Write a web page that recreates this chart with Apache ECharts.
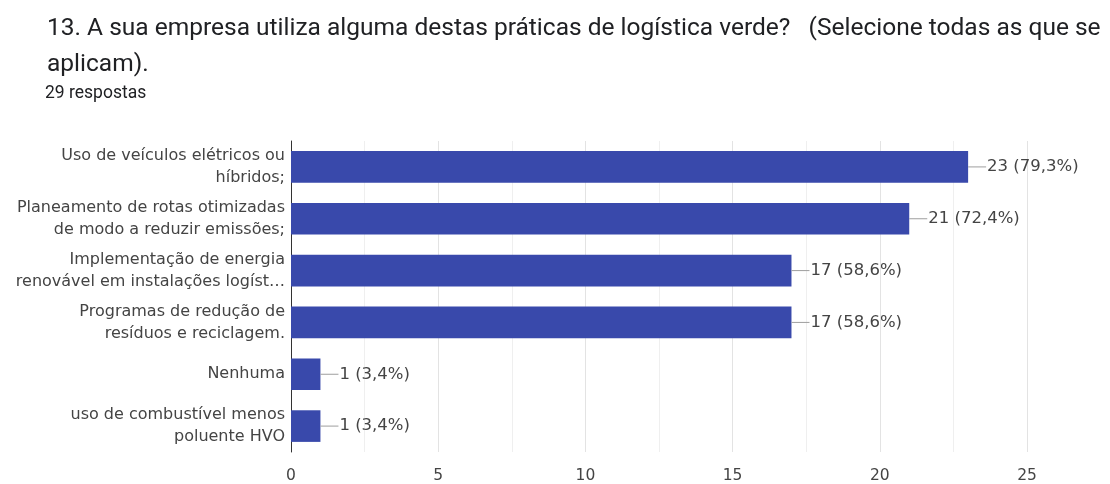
<!DOCTYPE html>
<html><head><meta charset="utf-8">
<script src="https://cdn.jsdelivr.net/npm/echarts@6/dist/echarts.min.js"></script>
<style>html,body{margin:0;padding:0;background:#fff}#c{width:1110px;height:484px}</style>
</head><body><div id="c"></div>
<script>
const categories = [
  "Uso de veículos elétricos ou\nhíbridos;",
  "Planeamento de rotas otimizadas\nde modo a reduzir emissões;",
  "Implementação de energia\nrenovável em instalações logíst…",
  "Programas de redução de\nresíduos e reciclagem.",
  "Nenhuma",
  "uso de combustível menos\npoluente HVO"
];
const counts = [23, 21, 17, 17, 1, 1];
const percents = ["79,3%", "72,4%", "58,6%", "58,6%", "3,4%", "3,4%"];
const xTicks = [0, 5, 10, 15, 20, 25];
const titleText = "13. A sua empresa utiliza alguma destas práticas de logística verde?   (Selecione todas as que se\naplicam).";
const subText = "29 respostas";

const labelFont = 'DejaVu Sans';
const chart = echarts.init(document.getElementById('c'), null, {renderer: 'canvas'});
chart.setOption({
  animation: false,
  backgroundColor: '#fff',
  title: [
    {text: titleText, left: 42, top: 6, textStyle: {fontFamily: 'Roboto', fontSize: 24.5, fontWeight: 'normal', color: '#202124', lineHeight: 36}},
    {text: subText, left: 40, top: 80, textStyle: {fontFamily: 'Roboto', fontSize: 17.5, fontWeight: 'normal', color: '#202124'}}
  ],
  grid: {left: 291, right: 83, top: 141, bottom: 29, containLabel: false},
  xAxis: {
    type: 'value', min: 0, max: 25, interval: 5,
    axisLine: {show: false}, axisTick: {show: false},
    axisLabel: {color: '#444', fontFamily: labelFont, fontSize: 15.5, margin: 16,
      formatter: v => xTicks.includes(v) ? String(v) : ''},
    splitLine: {show: true, lineStyle: {color: '#e3e3e3', width: 1}},
    minorTick: {show: false, splitNumber: 2},
    minorSplitLine: {show: true, lineStyle: {color: '#efefef', width: 1}}
  },
  yAxis: {
    type: 'category', data: categories, inverse: true,
    axisLine: {show: true, lineStyle: {color: '#333', width: 1}},
    axisTick: {show: false},
    axisLabel: {color: '#444', fontFamily: labelFont, fontSize: 16, lineHeight: 22, margin: 6, align: 'right'}
  },
  series: [{
    type: 'bar',
    data: counts,
    barWidth: '61%',
    itemStyle: {color: '#3949ab'},
    label: {
      show: true, position: 'right', distance: 0,
      formatter: p => '{l|}{t|' + counts[p.dataIndex] + ' (' + percents[p.dataIndex] + ')}',
      rich: {
        l: {width: 18, height: 1, backgroundColor: '#9e9e9e', verticalAlign: 'middle'},
        t: {color: '#444', fontFamily: labelFont, fontSize: 16.5, padding: [0, 0, 0, 1]}
      }
    }
  }]
});
</script></body></html>
